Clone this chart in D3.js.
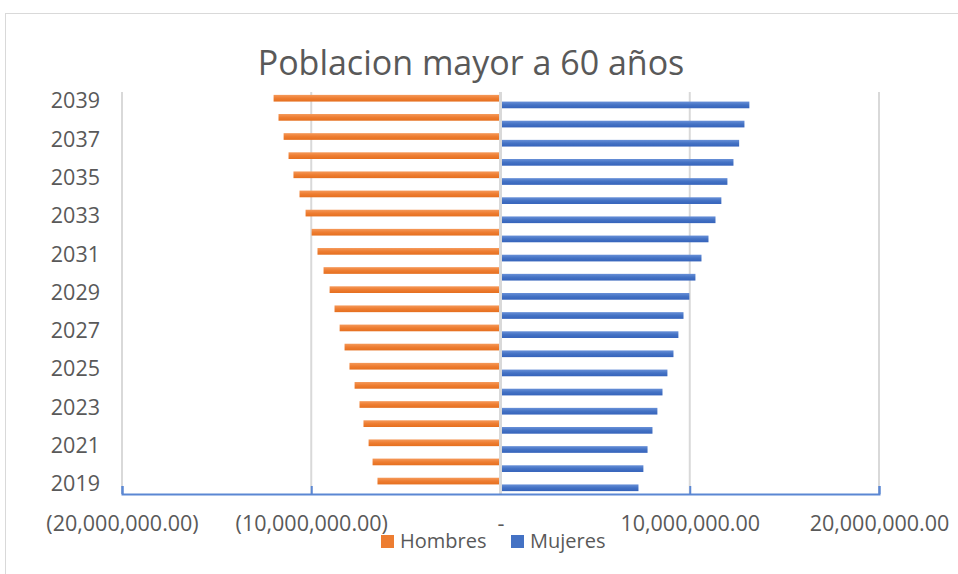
<!DOCTYPE html>
<html>
<head>
<meta charset="utf-8">
<script src="https://cdn.jsdelivr.net/npm/d3@7"></script>
<style>
  html, body { margin: 0; padding: 0; background: #fff; }
  svg { display: block; font-family: "Open Sans", sans-serif; }
</style>
</head>
<body>
<div id="chart"></div>
<script>
// --- Data ---
const years = [2019, 2020, 2021, 2022, 2023, 2024, 2025, 2026, 2027, 2028, 2029,
               2030, 2031, 2032, 2033, 2034, 2035, 2036, 2037, 2038, 2039];
const hombres = [6500000, 6760000, 6970000, 7240000, 7450000, 7710000, 7980000,
                 8240000, 8500000, 8770000, 9030000, 9350000, 9670000, 9980000,
                 10300000, 10620000, 10940000, 11200000, 11460000, 11730000, 11990000];
const mujeres = [7290000, 7550000, 7770000, 8030000, 8290000, 8560000, 8820000,
                 9140000, 9400000, 9670000, 9980000, 10300000, 10620000, 10990000,
                 11360000, 11670000, 11990000, 12310000, 12610000, 12890000, 13150000];
const series = ["Hombres", "Mujeres"];
const xTicks = [-20000000, -10000000, 0, 10000000, 20000000];
const yLabelYears = [2019, 2021, 2023, 2025, 2027, 2029, 2031, 2033, 2035, 2037, 2039];

const W = 958, H = 574;
const plot = { left: 122, right: 879, top: 92, bottom: 494 };
const textColor = "#595959";
const gridColor = "#d9d9d9";

const rows = years.map((y, i) => ({ year: y, Hombres: -hombres[i], Mujeres: mujeres[i] }));

const svg = d3.select("#chart").append("svg")
  .attr("width", W)
  .attr("height", H);

// gradients for the bars (Excel-like shading)
const defs = svg.append("defs");
function grad(id, stops) {
  const g = defs.append("linearGradient").attr("id", id)
    .attr("x1", 0).attr("y1", 0).attr("x2", 0).attr("y2", 1);
  stops.forEach(([o, c]) => g.append("stop").attr("offset", o).attr("stop-color", c));
}
grad("gH", [["0%", "#f5995a"], ["50%", "#ee7d31"], ["100%", "#e56f1f"]]);
grad("gM", [["0%", "#6890d8"], ["50%", "#4472c4"], ["100%", "#3563bb"]]);
const fill = { Hombres: "url(#gH)", Mujeres: "url(#gM)" };
const solid = { Hombres: "#ed7d31", Mujeres: "#4472c4" };

// chart frame
svg.append("rect")
  .attr("x", 5.5).attr("y", 13.5)
  .attr("width", W + 20).attr("height", H + 20)
  .attr("fill", "#fff")
  .attr("stroke", gridColor);

// --- Scales ---
const x = d3.scaleLinear()
  .domain([-20000000, 20000000])
  .range([plot.left, plot.right]);

const y = d3.scaleBand()
  .domain(years.slice().reverse())
  .range([plot.top, plot.bottom])
  .paddingInner(0.3)
  .paddingOuter(0.15);

const ySub = d3.scaleBand()
  .domain(series)
  .range([0, y.bandwidth()]);

// --- Gridlines ---
svg.append("g")
  .selectAll("line")
  .data(xTicks.filter(d => d !== 0))
  .join("line")
    .attr("x1", d => x(d)).attr("x2", d => x(d))
    .attr("y1", plot.top).attr("y2", plot.bottom)
    .attr("stroke", gridColor)
    .attr("stroke-width", 2);

// --- Bars ---
svg.append("g")
  .selectAll("g")
  .data(rows)
  .join("g")
    .attr("transform", d => `translate(0,${y(d.year)})`)
  .selectAll("rect")
  .data(d => series.map(s => ({ key: s, value: d[s] })))
  .join("rect")
    .attr("x", d => x(Math.min(0, d.value)))
    .attr("y", d => ySub(d.key))
    .attr("width", d => Math.abs(x(d.value) - x(0)))
    .attr("height", ySub.bandwidth())
    .attr("fill", d => fill[d.key]);

// center vertical axis line
svg.append("line")
  .attr("x1", x(0)).attr("x2", x(0))
  .attr("y1", plot.top).attr("y2", plot.bottom)
  .attr("stroke", gridColor)
  .attr("stroke-width", 3);

// --- X axis ---
const fmt = d3.format(",.2f");
svg.append("g")
  .attr("transform", `translate(0,${plot.bottom})`)
  .call(d3.axisBottom(x)
    .tickValues(xTicks)
    .tickSize(-8)
    .tickPadding(22)
    .tickFormat(d => d === 0 ? "-" : d < 0 ? `(${fmt(-d)})` : fmt(d)))
  .call(ax => ax.select(".domain").attr("stroke", "#5b87d3").attr("stroke-width", 2))
  .call(ax => ax.selectAll(".tick line").attr("stroke", "#5b87d3").attr("stroke-width", 2))
  .call(ax => ax.selectAll(".tick").filter(d => d === 0).select("line").remove())
  .call(ax => ax.selectAll("text")
    .attr("font-size", 21.5)
    .attr("font-family", "Open Sans, sans-serif")
    .attr("fill", textColor));

// --- Y axis ---
svg.append("g")
  .attr("transform", `translate(${plot.left},0)`)
  .call(d3.axisLeft(y).tickValues(yLabelYears).tickSize(0).tickPadding(22))
  .call(ax => ax.select(".domain").remove())
  .call(ax => ax.selectAll("text")
    .attr("font-size", 21.5)
    .attr("font-family", "Open Sans, sans-serif")
    .attr("fill", textColor));

// --- Title ---
svg.append("text")
  .attr("x", 471).attr("y", 75)
  .attr("text-anchor", "middle")
  .attr("font-size", 34)
  .attr("fill", textColor)
  .text("Poblacion mayor a 60 años");

// --- Legend ---
const legendPos = [{ key: "Hombres", x: 381 }, { key: "Mujeres", x: 511 }];
const lg = svg.append("g").selectAll("g")
  .data(legendPos)
  .join("g")
    .attr("transform", d => `translate(${d.x},535)`);
lg.append("rect")
  .attr("width", 13).attr("height", 13)
  .attr("fill", d => solid[d.key]);
lg.append("text")
  .attr("x", 19).attr("y", 13)
  .attr("font-size", 20)
  .attr("fill", textColor)
  .text(d => d.key);
</script>
</body>
</html>
